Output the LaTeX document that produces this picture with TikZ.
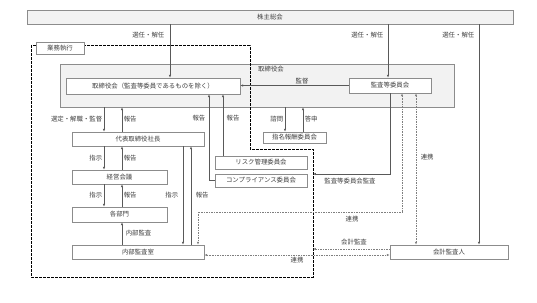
\documentclass[tikz,border=0pt]{standalone}
\usepackage{fontspec}
\setmainfont{Noto Sans CJK JP}
\usetikzlibrary{arrows.meta}
\definecolor{line-gray}{HTML}{595959}
\definecolor{box-gray}{HTML}{8C8C8C}
\definecolor{panel-bg}{HTML}{F2F2F2}
\definecolor{text-gray}{HTML}{404040}
\definecolor{dot-gray}{HTML}{7F7F7F}

\begin{document}
\begin{tikzpicture}[x=1pt, y=-1pt,
    every node/.style={font=\fontsize{6.4}{7}\selectfont, text=text-gray},
    >={Latex[length=2.8pt,width=2.4pt]},
    box/.style={draw=box-gray, fill=white, line width=0.7pt, inner sep=0pt,
                align=center},
    lbl/.style={inner sep=1.5pt},
    arr/.style={->, draw=line-gray, line width=0.55pt},
    dot/.style={densely dotted, draw=dot-gray, line width=0.65pt},
    execline/.style={draw=black, line width=1pt,
                     dash pattern=on 2.6pt off 1.4pt}]
      \useasboundingbox (0,0) rectangle (537,302);
      % boxes
      \node[box, fill=panel-bg, minimum width=486pt, minimum height=14pt]
            (meeting) at (270,17) {株主総会};
      \node[box, fill=panel-bg, minimum width=394pt, minimum height=43pt]
            (board) at (257,85.5) {};
      \node (boardname) at (271,69.5) {取締役会};
      \draw[execline] (36,46) -- (31,46) -- (31,277) -- (313,277)
            -- (313,149) -- (250,149) -- (250,46) -- (84,46);
      \node[box, minimum width=48pt, minimum height=12pt]
            (exec) at (60,48) {業務執行};
      \node[box, minimum width=174pt, minimum height=16pt]
            (directors) at (153,86) {取締役会（監査等委員であるものを除く）};
      \node[box, minimum width=82pt, minimum height=15pt]
            (auditcom) at (390,85.5) {監査等委員会};
      \node[box, minimum width=63pt, minimum height=11pt]
            (nomination) at (294.5,137.5) {指名報酬委員会};
      \node[box, minimum width=92pt, minimum height=13pt]
            (risk) at (261,162.5) {リスク管理委員会};
      \node[box, minimum width=92pt, minimum height=13pt]
            (compliance) at (261,180.5) {コンプライアンス委員会};
      \node[box, minimum width=132pt, minimum height=14pt]
            (president) at (138,139) {代表取締役社長};
      \node[box, minimum width=95pt, minimum height=14pt]
            (mgmt) at (119.5,177) {経営会議};
      \node[box, minimum width=95pt, minimum height=15pt]
            (depts) at (119.5,214.5) {各部門};
      \node[box, minimum width=132pt, minimum height=14pt]
            (internal) at (138,252) {内部監査室};
      \node[box, minimum width=118pt, minimum height=14pt]
            (accountant) at (449,252) {会計監査人};
      % shareholders
      \draw[arr] (meeting.south -| 170,0) -- (directors.north -| 170,0);
      \node[lbl, anchor=east] (elect1) at (166,35) {選任・解任};
      \draw[arr] (meeting.south -| 388,0) -- (auditcom.north -| 388,0);
      \node[lbl, anchor=east] (elect2) at (385,35) {選任・解任};
      \draw[arr] (meeting.south -| 479,0) -- (accountant.north -| 479,0);
      \node[lbl, anchor=east] (elect3) at (476,35) {選任・解任};
      % board
      \draw[arr] (auditcom.west) -- (auditcom.west -| directors.east)
            node[lbl, pos=0.43, above] (supervise) {監督};
      \draw[arr] (board.south -| 285,0) -- (nomination.north -| 285,0)
            node[lbl, midway, left] (consult) {諮問};
      \draw[arr] (nomination.north -| 303,0) -- (board.south -| 303,0)
            node[lbl, midway, right] (answer) {答申};
      \coordinate (execAudit) at (313,174);
      \draw[arr] (auditcom.south) |- (execAudit);
      \node[lbl] (acaudit) at (350,181) {監査等委員会監査};
      \draw[arr] (risk.north -| 223,0) -- (directors.south -| 223,0);
      \node[lbl, anchor=west] (report3) at (225,118) {報告};
      \draw[arr] (compliance.west) -| (directors.south -| 209,0);
      \node[lbl, anchor=east] (report2) at (207,118) {報告};
      % execution
      \draw[arr] (board.south -| 104,0) -- (president.north -| 104,0)
            node[lbl, midway, left] (appoint) {選定・解職・監督};
      \draw[arr] (president.north -| 122,0) -- (board.south -| 122,0)
            node[lbl, midway, right] (report1) {報告};
      \draw[arr] (president.south -| 104,0) -- (mgmt.north -| 104,0)
            node[lbl, midway, left] (order1) {指示};
      \draw[arr] (mgmt.north -| 122,0) -- (president.south -| 122,0)
            node[lbl, midway, right] (report4) {報告};
      \draw[arr] (mgmt.south -| 104,0) -- (depts.north -| 104,0)
            node[lbl, midway, left] (order2) {指示};
      \draw[arr] (depts.north -| 122,0) -- (mgmt.south -| 122,0)
            node[lbl, midway, right] (report5) {報告};
      \draw[arr] (internal.north -| 122,0) -- (depts.south -| 122,0)
            node[lbl, midway, right, xshift=2pt] (iaudit) {内部監査};
      \draw[arr] (president.south -| 183,0) -- (internal.north -| 183,0)
            node[lbl, midway, left, xshift=-3pt] (order3) {指示};
      \draw[arr] (internal.north -| 191,0) -- (president.south -| 191,0)
            node[lbl, midway, right, xshift=3pt] (report6) {報告};
      % audit links
      \draw[dot, <->] (auditcom.south -| 402,0) |- (198,212)
            -- (internal.north -| 198,0);
      \node[lbl] (link1) at (352,219) {連携};
      \draw[dot, <->] (auditcom.south -| 416,0) -- (accountant.north -| 416,0)
            node[lbl, pos=0.42, right, xshift=3pt] (link2) {連携};
      \coordinate (execAcct) at (313,249);
      \draw[dot, ->] ([yshift=3pt]accountant.west) -- (execAcct);
      \node[lbl] (acctaudit) at (354,242) {会計監査};
      \draw[dot, <->] ([yshift=-3pt]internal.east) -- ([yshift=-3pt]accountant.west)
            node[lbl, midway, below] (link3) {連携};
    \end{tikzpicture}
\end{document}
